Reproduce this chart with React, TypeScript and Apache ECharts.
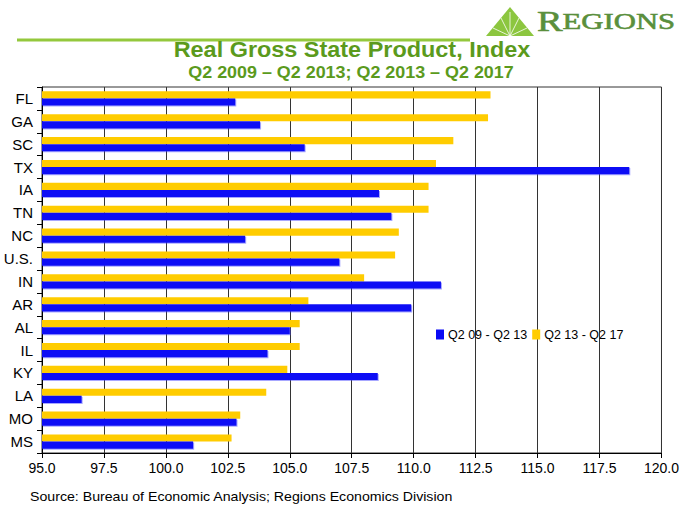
import React, { useEffect, useRef } from "react";
import * as echarts from "echarts";

const categories = ["FL", "GA", "SC", "TX", "IA", "TN", "NC", "U.S.", "IN", "AR", "AL", "IL", "KY", "LA", "MO", "MS"];
const seriesNames = ["Q2 09 - Q2 13", "Q2 13 - Q2 17"];
const early = [102.8, 103.8, 105.6, 118.7, 108.6, 109.1, 103.2, 107.0, 111.1, 109.9, 105.0, 104.1, 108.55, 96.6, 102.85, 101.1];
const late = [113.1, 113.0, 111.6, 110.9, 110.6, 110.6, 109.4, 109.25, 108.0, 105.75, 105.4, 105.4, 104.9, 104.05, 103.0, 102.65];
const xTicks = { min: 95, max: 120, interval: 2.5 };

const GREEN = "#5b9a1c";
const FONT = "'Liberation Sans', Arial, sans-serif";

export default function App() {
  const ref = useRef<HTMLDivElement>(null);
  useEffect(() => {
    const chart = echarts.init(ref.current!, null, { renderer: "svg" });
    chart.setOption({
      animation: false,
      backgroundColor: "#ffffff",
      textStyle: { fontFamily: FONT },
      grid: { left: 42, right: 15, top: 87, bottom: 57, show: true, borderColor: "#333", borderWidth: 1, containLabel: false },
      legend: {
        data: [seriesNames[0], seriesNames[1]],
        left: 431,
        top: 323,
        itemWidth: 8,
        itemHeight: 10,
        itemGap: 5,
        icon: "rect",
        textStyle: { fontSize: 12.5, color: "#000", fontFamily: FONT, padding: [0, 0, 0, -1] },
      },
      xAxis: {
        type: "value",
        min: xTicks.min,
        max: xTicks.max,
        interval: xTicks.interval,
        axisLine: { show: true, lineStyle: { color: "#000" } },
        axisTick: { show: true, length: 5, lineStyle: { color: "#000" } },
        axisLabel: { color: "#000", fontSize: 14, margin: 8, formatter: (v: number) => v.toFixed(1) },
        splitLine: { show: true, lineStyle: { color: "#333", width: 1 } },
      },
      yAxis: {
        type: "category",
        data: categories,
        inverse: true,
        axisLine: { show: true, lineStyle: { color: "#000" } },
        axisTick: { show: true, length: 5, lineStyle: { color: "#000" } },
        axisLabel: { color: "#000", fontSize: 15, margin: 9 },
      },
      series: [
        {
          name: seriesNames[1],
          type: "bar",
          data: late,
          itemStyle: { color: "#ffcc00" },
          barGap: "0%",
          barCategoryGap: "38%",
        },
        {
          name: seriesNames[0],
          type: "bar",
          data: early,
          itemStyle: { color: "#0a0af5", shadowColor: "rgba(60,60,255,0.45)", shadowOffsetX: 1, shadowOffsetY: 1 },
          barGap: "0%",
          barCategoryGap: "38%",
        },
      ],
      graphic: [
        { type: "line", shape: { x1: 17, y1: 40, x2: 470, y2: 40 }, style: { stroke: "#94c83c", lineWidth: 3 } },
        { type: "polygon", shape: { points: [[510, 7], [486, 36], [534, 36]] }, style: { fill: "#8cc63f" } },
        { type: "line", shape: { x1: 510, y1: 36, x2: 510, y2: 12 }, style: { stroke: "#ffffff", lineWidth: 0.8 } },
        { type: "line", shape: { x1: 510, y1: 36, x2: 501, y2: 18 }, style: { stroke: "#ffffff", lineWidth: 0.8 } },
        { type: "line", shape: { x1: 510, y1: 36, x2: 519, y2: 18 }, style: { stroke: "#ffffff", lineWidth: 0.8 } },
        { type: "line", shape: { x1: 510, y1: 36, x2: 493, y2: 28 }, style: { stroke: "#ffffff", lineWidth: 0.8 } },
        { type: "line", shape: { x1: 510, y1: 36, x2: 527, y2: 28 }, style: { stroke: "#ffffff", lineWidth: 0.8 } },
        {
          type: "text",
          x: 537,
          y: 36,
          scaleX: 1.28,
          style: {
            text: "{a|R}{b|EGIONS}",
            verticalAlign: "bottom",
            rich: {
              a: { fontFamily: "'Liberation Serif', serif", fontSize: 30, fill: "#5a8f3c", stroke: "#5a8f3c", lineWidth: 0.6 },
              b: { fontFamily: "'Liberation Serif', serif", fontSize: 24, fill: "#5a8f3c", stroke: "#5a8f3c", lineWidth: 0.6 },
            },
          },
        },
        {
          type: "text",
          x: 352,
          y: 49,
          scaleX: 1.065,
          style: { text: "Real Gross State Product, Index", fill: GREEN, fontSize: 22, fontWeight: "bold", fontFamily: FONT, align: "center", verticalAlign: "middle" },
        },
        {
          type: "text",
          x: 351,
          y: 73,
          scaleX: 1.12,
          style: { text: "Q2 2009 – Q2 2013; Q2 2013 – Q2 2017", fill: GREEN, fontSize: 16, fontWeight: "bold", fontFamily: FONT, align: "center", verticalAlign: "middle" },
        },
        {
          type: "text",
          x: 30,
          y: 497,
          scaleX: 1.09,
          style: { text: "Source: Bureau of Economic Analysis; Regions Economics Division", fill: "#000", fontSize: 13, fontFamily: FONT, verticalAlign: "middle" },
        },
      ],
    });
    return () => chart.dispose();
  }, []);
  return <div ref={ref} style={{ width: 682, height: 510, position: "absolute", left: 0, top: 0 }} />;
}
